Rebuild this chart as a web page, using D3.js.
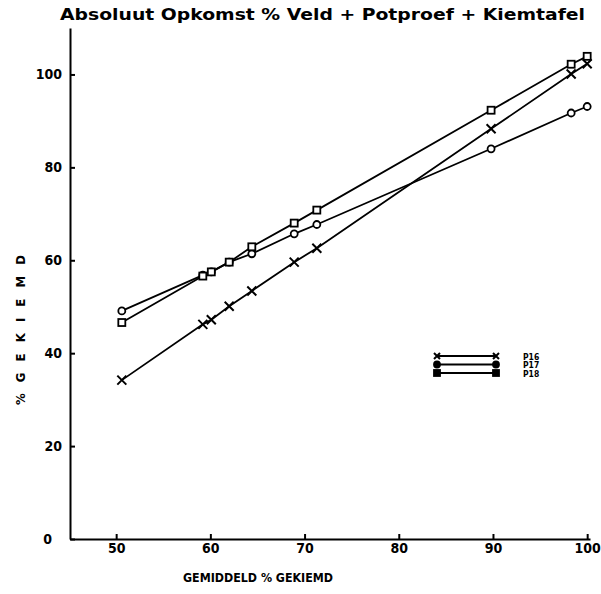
<!DOCTYPE html>
<html>
<head>
<meta charset="utf-8">
<script src="https://cdn.jsdelivr.net/npm/d3@7"></script>
<style>
  body { margin: 0; background: #fff; }
  svg { display: block; background: #fff; }
  .axis text { font-family: "DejaVu Sans Condensed", "DejaVu Sans", sans-serif; font-weight: bold; font-size: 14px; fill: #000; }
  .axis path, .axis line { stroke: #000; stroke-width: 2; }
</style>
</head>
<body>
<svg></svg>
<script>
// gemiddeld % gekiemd (x) per monster
const gemiddeld = [50.6, 59.2, 60.1, 62.0, 64.4, 68.9, 71.3, 89.8, 98.3, 100]
const p16 = [34.2, 46.2, 47.2, 50.1, 53.4, 59.6, 62.6, 88.3, 100.1, 102.3]
const p17 = [49.1, 56.8, 57.5, 59.6, 61.4, 65.7, 67.7, 84.0, 91.7, 93.1]
const p18 = [46.6, 56.6, 57.5, 59.6, 62.9, 68.0, 70.8, 92.3, 102.2, 103.9]
const seriesNames = ['P16', 'P17', 'P18']
const xTicks = [50, 60, 70, 80, 90, 100]
const yTicks = [0, 20, 40, 60, 80, 100]

const width = 601, height = 594

const svg = d3.select('svg')
    .attr('width', width)
    .attr('height', height)

const x = d3.scaleLinear().domain([45.1, 100.3]).range([70, 590])
const y = d3.scaleLinear().domain([0, 110]).range([539, 28])

svg.append('text')
    .attr('x', 60)
    .attr('y', 20)
    .attr('textLength', 525)
    .attr('lengthAdjust', 'spacingAndGlyphs')
    .style('font-family', '"DejaVu Sans", sans-serif')
    .style('font-size', '16px')
    .style('font-weight', '600')
    .text('Absoluut Opkomst % Veld + Potproef + Kiemtafel')

svg.append('g')
    .attr('class', 'axis x')
    .attr('transform', `translate(0,${y(0)})`)
    .call(d3.axisBottom(x).tickValues(xTicks).tickSizeInner(-5).tickSizeOuter(0).tickPadding(4))

const yAxis = svg.append('g')
    .attr('class', 'axis y')
    .attr('transform', `translate(${x.range()[0]},0)`)
    .call(d3.axisLeft(y).tickValues(yTicks).tickSizeInner(-5).tickSizeOuter(0).tickPadding(8))

// de nul staat iets verder van de as af
yAxis.selectAll('.tick').filter(d => d === 0).select('text').attr('dx', -10)

svg.append('text')
    .attr('x', 258)
    .attr('y', 582)
    .attr('text-anchor', 'middle')
    .attr('textLength', 150)
    .attr('lengthAdjust', 'spacingAndGlyphs')
    .style('font-family', '"DejaVu Sans Condensed", sans-serif')
    .style('font-size', '12px')
    .style('font-weight', 'bold')
    .text('GEMIDDELD % GEKIEMD')

svg.append('text')
    .attr('transform', 'translate(25,330) rotate(-90)')
    .attr('text-anchor', 'middle')
    .attr('textLength', 150)
    .attr('lengthAdjust', 'spacing')
    .style('font-family', '"DejaVu Sans Condensed", sans-serif')
    .style('font-size', '13px')
    .style('font-weight', 'bold')
    .text('%GEKIEMD')

const allSeries = [p16, p17, p18].map((vals, i) => ({
    name: seriesNames[i],
    points: vals.map((v, j) => [gemiddeld[j], v])
}))

const line = d3.line().x(d => x(d[0])).y(d => y(d[1]))

const drawMarker = (g, kind, cx, cy, s, filled) => {
    if (kind === 0) {
        g.append('path')
            .attr('d', `M${cx - s},${cy - s}L${cx + s},${cy + s}M${cx - s},${cy + s}L${cx + s},${cy - s}`)
            .attr('stroke', '#000').attr('stroke-width', 2)
    } else if (kind === 1) {
        g.append('circle').attr('cx', cx).attr('cy', cy).attr('r', s)
            .attr('fill', filled ? '#000' : '#fff').attr('stroke', '#000').attr('stroke-width', 1.8)
    } else {
        g.append('rect').attr('x', cx - s).attr('y', cy - s).attr('width', 2 * s).attr('height', 2 * s)
            .attr('fill', filled ? '#000' : '#fff').attr('stroke', '#000').attr('stroke-width', 1.8)
    }
}

const plot = svg.append('g')
allSeries.forEach((s, i) => {
    plot.append('path')
        .datum(s.points)
        .attr('fill', 'none')
        .attr('stroke', '#000')
        .attr('stroke-width', 1.8)
        .attr('d', line)
})
allSeries.forEach((s, i) => {
    s.points.forEach(p => drawMarker(plot, i, x(p[0]), y(p[1]), i === 0 ? 4.5 : 3.5, false))
})

// legenda
const legend = svg.append('g').attr('transform', 'translate(437,356)')
seriesNames.forEach((name, i) => {
    const ly = i * 8.5
    legend.append('line')
        .attr('x1', 0).attr('x2', 59).attr('y1', ly).attr('y2', ly)
        .attr('stroke', '#000').attr('stroke-width', 2)
    drawMarker(legend, i, 0, ly, 3, true)
    drawMarker(legend, i, 59, ly, 3, true)
    legend.append('text')
        .attr('x', 86).attr('y', ly + 3.5)
        .style('font-family', '"DejaVu Sans Condensed", sans-serif')
        .style('font-size', '8.5px')
        .style('font-weight', 'bold')
        .text(name)
})
</script>
</body>
</html>
